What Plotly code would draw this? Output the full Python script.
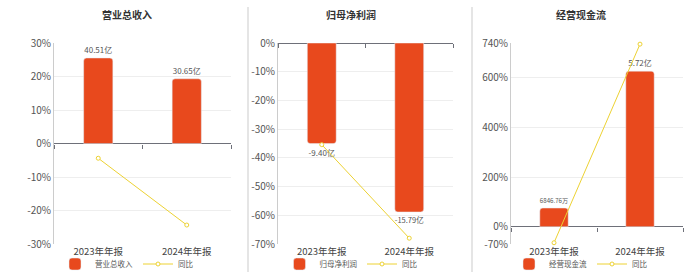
import plotly.graph_objects as go

categories = ["2023年年报", "2024年年报"]

titles = ["营业总收入", "归母净利润", "经营现金流"]
bar_names = ["营业总收入", "归母净利润", "经营现金流"]

revenue = [40.51, 30.65]          # 亿
net_profit = [-9.40, -15.79]      # 亿
cash_flow = [0.684676, 5.72]      # 亿

revenue_labels = ["40.51亿", "30.65亿"]
net_profit_labels = ["-9.40亿", "-15.79亿"]
cash_flow_labels = ["6846.76万", "5.72亿"]

revenue_yoy = [-4.4, -24.34]
net_profit_yoy = [-35.4, -67.98]
cash_flow_yoy = [-65.0, 735.4]

pct_ranges = [[-30, 30], [-70, 0], [-70, 740]]
pct_ticks = [[-30, -20, -10, 0, 10, 20, 30],
             [-70, -60, -50, -40, -30, -20, -10, 0],
             [-70, 0, 200, 400, 600, 740]]
bar_tops = [47.6, 0, 6.755]
bar_bottoms = [-47.6, -18.78, -0.639]

BAR = "#E8491D"
LINE = "#EDD233"
FONT = "Noto Sans CJK SC"
W, H = 700, 272

x_px = [(54, 231), (278, 453), (511, 683)]
y_dom = [1 - 244 / H, 1 - 43 / H]
centers = [127, 351, 581]

bars = [revenue, net_profit, cash_flow]
bar_text = [revenue_labels, net_profit_labels, cash_flow_labels]
yoys = [revenue_yoy, net_profit_yoy, cash_flow_yoy]

fig = go.Figure()
layout = dict(
    width=W, height=H, margin=dict(l=0, r=0, t=0, b=0, autoexpand=False),
    paper_bgcolor="white", plot_bgcolor="white",
    font=dict(family=FONT, color="#555"),
    showlegend=True,
)
annotations = []
shapes = []

for i in range(3):
    n = i + 1
    xb = f"x{n}" if n > 1 else "x"
    yb = f"y{n}" if n > 1 else "y"
    xt = f"x{n+3}"
    yp = f"y{n+3}"
    leg = "legend" if n == 1 else f"legend{n}"
    dom = [x_px[i][0] / W, x_px[i][1] / W]
    lo, hi = pct_ranges[i]
    zero_pos = y_dom[0] + (0 - lo) / (hi - lo) * (y_dom[1] - y_dom[0])

    fig.add_trace(go.Bar(
        x=categories, y=bars[i], xaxis=xb, yaxis=yb, name=bar_names[i],
        marker=dict(color=BAR, cornerradius=3), width=0.33,
        text=bar_text[i], textposition="outside", cliponaxis=False,
        textfont=dict(size=8, color="#555", family=FONT), legend=leg,
    ))
    fig.add_trace(go.Scatter(
        x=categories, y=yoys[i], xaxis=xt, yaxis=yp, name="同比",
        mode="lines+markers", line=dict(color=LINE, width=1),
        marker=dict(size=4, color="white", line=dict(color=LINE, width=1)),
        cliponaxis=False, legend=leg,
    ))

    layout[f"xaxis{n}" if n > 1 else "xaxis"] = dict(
        domain=dom, anchor=yb, type="category", range=[-0.5, 1.5],
        showline=False, showgrid=False, ticks="", zeroline=False,
        automargin=False,
        tickfont=dict(size=9.5, color="#444", family=FONT),
    )
    layout[f"yaxis{n}" if n > 1 else "yaxis"] = dict(
        domain=y_dom, anchor=xb, range=[bar_bottoms[i], bar_tops[i]],
        visible=False, showgrid=False, zeroline=False, automargin=False,
    )
    layout[f"xaxis{n+3}"] = dict(
        overlaying=xb, anchor="free", position=zero_pos, type="category",
        range=[-0.5, 1.5], showline=False, showgrid=False, zeroline=False,
        ticks="outside", tickson="boundaries", ticklen=4, tickcolor="#6E7079",
        showticklabels=False, automargin=False,
    )
    layout[f"yaxis{n+3}"] = dict(
        overlaying=yb, anchor=xb, side="left", range=[lo, hi],
        tickmode="array", tickvals=pct_ticks[i],
        ticktext=[f"{v}%" for v in pct_ticks[i]], showgrid=True,
        gridcolor="#EEEEEE", gridwidth=1, zeroline=True,
        zerolinecolor="#6E7079", zerolinewidth=1, showline=True,
        linecolor="#CCCCCC", linewidth=1, ticks="", automargin=False,
        tickfont=dict(size=10, color="#555", family=FONT),
    )
    layout[leg] = dict(
        orientation="h", x=centers[i] / W, xanchor="center",
        xref="container", yref="container",
        y=1 - 264 / H, yanchor="middle", itemwidth=30,
        font=dict(size=7.5, color="#555", family=FONT),
        bgcolor="rgba(0,0,0,0)", tracegroupgap=0,
    )
    annotations.append(dict(
        text=f"<b>{titles[i]}</b>", x=centers[i] / W, y=1 - 14 / H,
        xref="paper", yref="paper", showarrow=False,
        font=dict(size=10, color="#333", family=FONT),
        xanchor="center", yanchor="middle",
    ))

for sx in (248, 472):
    shapes.append(dict(type="line", xref="paper", yref="paper",
                       x0=sx / W, x1=sx / W, y0=0, y1=1 - 7 / H,
                       line=dict(color="#DDDDDD", width=1.5)))

layout["annotations"] = annotations
layout["shapes"] = shapes
fig.update_layout(**layout)
fig.write_html("out.html")
